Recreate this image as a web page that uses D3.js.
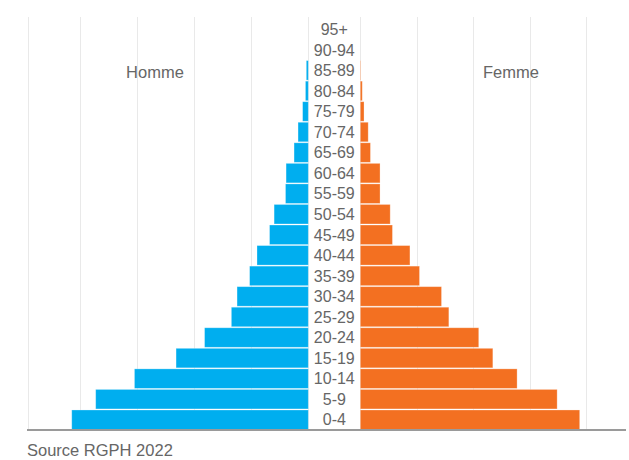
<!DOCTYPE html>
<html>
<head>
<meta charset="utf-8">
<script src="https://cdn.jsdelivr.net/npm/d3@7"></script>
<style>
  html, body { margin: 0; padding: 0; background: #fff; }
  svg { display: block; font-family: "Liberation Sans", Arial, Helvetica, sans-serif; }
</style>
</head>
<body>
<svg id="chart" width="629" height="460"></svg>
<script>
// Age groups, youngest first (drawn bottom to top)
const ageGroups = ["0-4", "5-9", "10-14", "15-19", "20-24", "25-29", "30-34", "35-39",
  "40-44", "45-49", "50-54", "55-59", "60-64", "65-69", "70-74", "75-79",
  "80-84", "85-89", "90-94", "95+"];

// Population by age group, in thousands
const hommes = [415, 373, 305, 232, 182, 135, 125, 103, 90, 68, 60, 40, 39, 25, 18, 10, 5, 3.5, 0, 0];
const femmes = [389, 349, 278, 235, 210, 157, 144, 105, 88, 57, 53, 35, 35, 18, 14, 6.6, 3.5, 0.8, 0, 0];

const gridValues = [0, 100, 200, 300, 400];
const sexLabels = ["Homme", "Femme"];
const sourceText = "Source RGPH 2022";

const svg = d3.select("#chart");
const colors = { homme: "#00AEEF", femme: "#F37021" };

const gridTop = 17, bandTop = 19.5, plotBottom = 429.5;
const leftZero = 308.3, rightZero = 360.3;
const leftEdge = 27, rightEdge = 626;

const y = d3.scaleBand()
  .domain(ageGroups)
  .range([plotBottom, bandTop])
  .paddingInner(0.05)
  .paddingOuter(0);

const xLeft = d3.scaleLinear().domain([0, 491]).range([leftZero, leftZero - 491 * 0.57]);
const xRight = d3.scaleLinear().domain([0, 470]).range([rightZero, rightZero + 470 * 0.564]);

// Vertical gridlines
const grid = svg.append("g").attr("stroke", "#e9e9e9").attr("stroke-width", 1);
grid.selectAll("line.gl").data(gridValues.concat([491])).join("line")
  .attr("x1", d => Math.round(xLeft(d)) + 0.5).attr("x2", d => Math.round(xLeft(d)) + 0.5)
  .attr("y1", gridTop).attr("y2", plotBottom);
grid.selectAll("line.gr").data(gridValues).join("line")
  .attr("x1", d => Math.round(xRight(d)) + 0.5).attr("x2", d => Math.round(xRight(d)) + 0.5)
  .attr("y1", gridTop).attr("y2", plotBottom);

// Male bars (left)
svg.append("g").selectAll("rect").data(ageGroups).join("rect")
  .attr("x", (d, i) => xLeft(hommes[i]))
  .attr("y", d => y(d))
  .attr("width", (d, i) => xLeft(0) - xLeft(hommes[i]))
  .attr("height", y.bandwidth())
  .attr("fill", colors.homme)
  .attr("stroke", "#fff").attr("stroke-opacity", 0.35).attr("stroke-width", 0.8);

// Female bars (right)
svg.append("g").selectAll("rect").data(ageGroups).join("rect")
  .attr("x", xRight(0))
  .attr("y", d => y(d))
  .attr("width", (d, i) => xRight(femmes[i]) - xRight(0))
  .attr("height", y.bandwidth())
  .attr("fill", colors.femme)
  .attr("stroke", "#fff").attr("stroke-opacity", 0.35).attr("stroke-width", 0.8);

// Age group labels in the centre column
svg.append("g").selectAll("text").data(ageGroups).join("text")
  .attr("x", (leftZero + rightZero) / 2)
  .attr("y", d => y(d) + y.bandwidth() / 2)
  .attr("dy", "0.36em")
  .attr("text-anchor", "middle")
  .attr("font-size", 16)
  .attr("fill", "#666")
  .text(d => d);

// Baseline
svg.append("line")
  .attr("x1", leftEdge).attr("x2", rightEdge)
  .attr("y1", plotBottom + 0.5).attr("y2", plotBottom + 0.5)
  .attr("stroke", "#9a9a9a").attr("stroke-width", 2);

// Sex labels
svg.append("text").attr("x", 155).attr("y", 78)
  .attr("text-anchor", "middle").attr("font-size", 16.5).attr("fill", "#666")
  .text(sexLabels[0]);
svg.append("text").attr("x", 511).attr("y", 78)
  .attr("text-anchor", "middle").attr("font-size", 16.5).attr("fill", "#666")
  .text(sexLabels[1]);

// Source note
svg.append("text").attr("x", 27).attr("y", 456)
  .attr("font-size", 16.5).attr("fill", "#666")
  .text(sourceText);
</script>
</body>
</html>
